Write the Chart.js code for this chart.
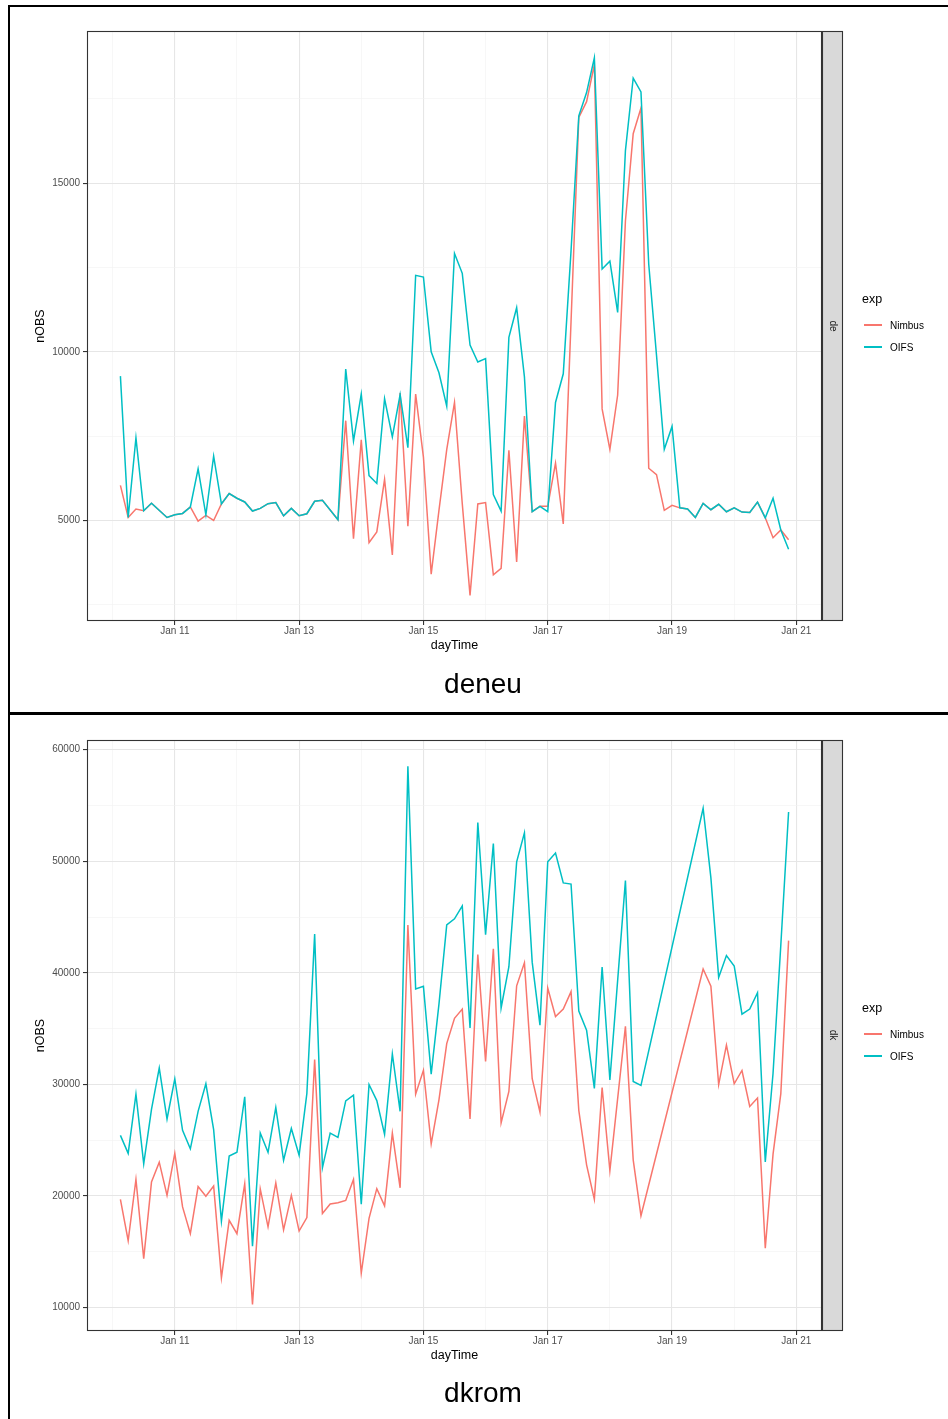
<!DOCTYPE html>
<html>
<head>
<meta charset="utf-8">
<title>nOBS per day</title>
<script src="https://cdn.jsdelivr.net/npm/chart.js@4.4.1/dist/chart.umd.min.js"></script>
<style>
    body { margin: 0; width: 948px; height: 1419px; background: #fff; position: relative; overflow: hidden;
           font-family: "Liberation Sans", Arial, Helvetica, sans-serif; }
    .rule { position: absolute; background: #000; }
    .panel { position: absolute; left: 0; width: 948px; height: 709px; }
    .panel canvas { position: absolute; left: 0; top: 0; }
    .txt { position: absolute; line-height: 1; white-space: nowrap; }
    .key { position: absolute; left: 864px; width: 18px; height: 2px; }
    .legend-title { left: 862px; top: 293px; font-size: 12.5px; color: #000; }
    .legend-item { left: 890px; font-size: 10px; color: #000; }
    .strip { left: 832.5px; top: 326px; font-size: 10px; color: #1a1a1a; transform: translate(-50%, -50%) rotate(90deg); }
    .caption { left: 483px; top: 670px; font-size: 28px; color: #000; transform: translateX(-50%); }
</style>
</head>
<body>

<div class="rule" style="left:8px; top:5px; width:940px; height:2px;"></div>
<div class="rule" style="left:8px; top:5px; width:2px; height:1414px;"></div>
<div class="rule" style="left:8px; top:712px; width:940px; height:3px;"></div>

<div class="panel" style="top:0px;">
    <canvas id="chartDeneu" width="948" height="700"></canvas>
    <div class="txt strip">de</div>
    <div class="txt legend-title">exp</div>
    <div class="key" style="top:324px; background:#F8766D;"></div>
    <div class="txt legend-item" style="top:320.5px;">Nimbus</div>
    <div class="key" style="top:346px; background:#00BFC4;"></div>
    <div class="txt legend-item" style="top:342.5px;">OIFS</div>
    <div class="txt caption">deneu</div>
</div>

<div class="panel" style="top:709px;">
    <canvas id="chartDkrom" width="948" height="700"></canvas>
    <div class="txt strip">dk</div>
    <div class="txt legend-title">exp</div>
    <div class="key" style="top:324px; background:#F8766D;"></div>
    <div class="txt legend-item" style="top:320.5px;">Nimbus</div>
    <div class="key" style="top:346px; background:#00BFC4;"></div>
    <div class="txt legend-item" style="top:342.5px;">OIFS</div>
    <div class="txt caption">dkrom</div>
</div>

<script>
// Sample times are day-of-January (3-hourly runs, 10.125 = Jan 10 03:00)

// --- deneu (strip "de") ---
const deneuTime = [
    10.125, 10.25, 10.375, 10.5, 10.625, 10.875, 11.0, 11.125, 11.25, 11.375, 11.5, 11.625, 11.75, 11.875,
    12.0, 12.125, 12.25, 12.375, 12.5, 12.625, 12.75, 12.875, 13.0, 13.125, 13.25, 13.375, 13.625, 13.75, 13.875,
    14.0, 14.125, 14.25, 14.375, 14.5, 14.625, 14.75, 14.875, 15.0, 15.125, 15.25, 15.375, 15.5, 15.625, 15.75, 15.875,
    16.0, 16.125, 16.25, 16.375, 16.5, 16.625, 16.75, 16.875, 17.0, 17.125, 17.25, 17.375, 17.5, 17.625, 17.75, 17.875,
    18.0, 18.125, 18.25, 18.375, 18.5, 18.625, 18.75, 18.875, 19.0, 19.125, 19.25, 19.375, 19.5, 19.625, 19.75, 19.875,
    20.0, 20.125, 20.25, 20.375, 20.5, 20.625, 20.75, 20.875
];
const deneuOIFS = [
    9280, 5090, 7450, 5290, 5510, 5090, 5170, 5210, 5400, 6530, 5170, 6910, 5490, 5800,
    5660, 5550, 5280, 5360, 5500, 5530, 5140, 5360, 5140, 5200, 5570, 5600, 5020, 9490, 7360,
    8750, 6330, 6100, 8610, 7480, 8730, 7160, 12270, 12220, 10000, 9380, 8390, 12920, 12330, 10200, 9700,
    9800, 5770, 5280, 10430, 11310, 9260, 5260, 5420, 5260, 8500, 9350, 13000, 17000, 17690, 18720, 12460,
    12690, 11170, 15970, 18120, 17710, 12600, 9900, 7110, 7790, 5375, 5340, 5090, 5510, 5320, 5480, 5260,
    5375, 5250, 5240, 5545, 5080, 5660, 4720, 4150
];
const deneuNimbus = [
    6040, 5090, 5340, 5290, 5510, 5090, 5170, 5210, 5400, 4980, 5150, 5000, 5490, 5800,
    5660, 5550, 5280, 5360, 5500, 5530, 5140, 5360, 5140, 5200, 5570, 5600, 5020, 7960, 4460,
    7390, 4340, 4660, 6220, 3980, 8780, 4830, 8750, 6880, 3410, 5300, 7100, 8500, 5500, 2780, 5490,
    5530, 3390, 3580, 7080, 3770, 8100, 5260, 5420, 5420, 6700, 4900, 10900, 16950, 17420, 18520, 8310,
    7110, 8720, 13880, 16470, 17230, 6550, 6360, 5300, 5450, 5375, 5340, 5090, 5510, 5320, 5480, 5260,
    5375, 5250, 5240, 5545, 5080, 4490, 4720, 4430
];

// --- dkrom (strip "dk") ---
const dkromTime = [
    10.125, 10.25, 10.375, 10.5, 10.625, 10.75, 10.875, 11.0, 11.125, 11.25, 11.375, 11.5, 11.625, 11.75, 11.875,
    12.0, 12.125, 12.25, 12.375, 12.5, 12.625, 12.75, 12.875, 13.0, 13.125, 13.25, 13.375, 13.5, 13.625, 13.75, 13.875,
    14.0, 14.125, 14.25, 14.375, 14.5, 14.625, 14.75, 14.875, 15.0, 15.125, 15.25, 15.375, 15.5, 15.625, 15.75, 15.875,
    16.0, 16.125, 16.25, 16.375, 16.5, 16.625, 16.75, 16.875, 17.0, 17.125, 17.25, 17.375, 17.5, 17.625, 17.75, 17.875,
    18.0, 18.25, 18.375, 18.5, 19.5, 19.625, 19.75, 19.875, 20.0, 20.125, 20.25, 20.375, 20.5, 20.625, 20.75, 20.875
];
const dkromOIFS = [
    25430, 23820, 29130, 22890, 27760, 31470, 26900, 30500, 25880, 24230, 27590, 30060, 25950, 17750, 23580,
    23920, 28890, 15490, 25640, 23920, 27930, 23200, 26050, 23650, 29200, 43470, 22520, 25640, 25260, 28520, 29030,
    19260, 29990, 28550, 25530, 32730, 27590, 58520, 38560, 38800, 30920, 37190, 44290, 44840, 46000, 35070, 53480,
    43430, 51590, 36850, 40550, 49950, 52550, 40960, 35310, 49950, 50740, 48060, 47960, 36570, 34860, 29650, 40520,
    30400, 48270, 30270, 29920, 54750, 48510, 39590, 41550, 40620, 36300, 36760, 38220, 23050, 31000, 42500, 54420
];
const dkromNimbus = [
    19700, 16000, 21490, 14390, 21250, 23030, 20050, 23820, 19020, 16620, 20840, 19980, 20900, 12670, 17820,
    16620, 21080, 10270, 20630, 17240, 21180, 16960, 20050, 16860, 18060, 32220, 18440, 19290, 19400, 19600, 21490,
    13090, 17990, 20660, 19120, 25640, 20730, 44290, 29130, 31260, 24680, 28620, 33660, 35920, 36750, 26900, 41650,
    32050, 42160, 26560, 29370, 38840, 40900, 30510, 27520, 38630, 36090, 36750, 38320, 27660, 22790, 19700, 29720,
    22280, 35200, 23240, 18230, 40350, 38800, 29990, 33520, 30060, 31250, 28020, 28780, 15320, 23750, 29180, 42890
];

// axis breaks (labelled: odd days on x, every 5000 / 10000 on y; the others are minor grid only)
const xTickDays = [10, 11, 12, 13, 14, 15, 16, 17, 18, 19, 20, 21];
const deneuYTicks = [2500, 5000, 7500, 10000, 12500, 15000, 17500];
const dkromYTicks = [10000, 15000, 20000, 25000, 30000, 35000, 40000, 45000, 50000, 55000, 60000];

const COLOR_NIMBUS = "#F8766D";
const COLOR_OIFS = "#00BFC4";

Chart.defaults.font.family = "'Liberation Sans', Arial, Helvetica, sans-serif";

// ggplot-like panel border and the grey facet strip on the right
const panelFrame = {
    id: "panelFrame",
    afterDatasetsDraw(chart) {
        const { ctx, chartArea: a } = chart;
        const h = a.bottom - a.top;
        ctx.save();
        ctx.strokeStyle = "#333333";
        ctx.lineWidth = 1.1;
        ctx.strokeRect(a.left + 0.5, a.top + 0.5, a.right - a.left - 1, h - 1);
        ctx.fillStyle = "#d9d9d9";
        ctx.fillRect(a.right, a.top, 21, h);
        ctx.strokeRect(a.right + 0.5, a.top + 0.5, 20, h - 1);
        ctx.restore();
    }
};

function gridStyle(isMajor) {
    return {
        color: c => (c.tick && isMajor(c.tick.value)) ? "#e6e6e6" : "#f2f2f2",
        lineWidth: c => (c.tick && isMajor(c.tick.value)) ? 1.1 : 0.6,
        tickColor: c => (c.tick && isMajor(c.tick.value)) ? "#333333" : "rgba(0,0,0,0)",
        tickLength: 4,
        tickWidth: 1.1
    };
}

function buildPanel(canvasId, times, nimbus, oifs, yTicks, yMajor, yMin, yMax, padBottom) {
    const toPoints = vals => times.map((t, i) => ({ x: t, y: vals[i] }));
    const isMajorX = v => v % 2 === 1;
    const isMajorY = v => v % yMajor === 0;

    new Chart(document.getElementById(canvasId), {
        type: "line",
        data: {
            datasets: [
                { label: "Nimbus", data: toPoints(nimbus), borderColor: COLOR_NIMBUS, order: 2 },
                { label: "OIFS", data: toPoints(oifs), borderColor: COLOR_OIFS, order: 1 }
            ]
        },
        options: {
            responsive: false,
            animation: false,
            elements: {
                line: { borderWidth: 1.5, tension: 0, fill: false },
                point: { radius: 0, hoverRadius: 0 }
            },
            layout: { padding: { left: 0, right: 126, top: 31, bottom: padBottom } },
            plugins: { legend: { display: false }, tooltip: { enabled: false } },
            scales: {
                x: {
                    type: "linear",
                    min: 9.5875,
                    max: 21.4125,
                    afterBuildTicks: axis => { axis.ticks = xTickDays.map(v => ({ value: v })); },
                    afterFit: axis => { axis.height = 40; },
                    border: { display: false },
                    grid: gridStyle(isMajorX),
                    ticks: {
                        autoSkip: false,
                        maxRotation: 0,
                        padding: 0,
                        color: "#4d4d4d",
                        font: { size: 10 },
                        callback: v => isMajorX(v) ? "Jan " + v : ""
                    },
                    title: {
                        display: true,
                        text: "dayTime",
                        color: "#000",
                        font: { size: 12.5 },
                        padding: { top: 0, bottom: 7.5 }
                    }
                },
                y: {
                    min: yMin,
                    max: yMax,
                    afterBuildTicks: axis => { axis.ticks = yTicks.map(v => ({ value: v })); },
                    afterFit: axis => { axis.width = 87; },
                    border: { display: false },
                    grid: gridStyle(isMajorY),
                    ticks: {
                        padding: 3,
                        color: "#4d4d4d",
                        font: { size: 10 },
                        callback: v => isMajorY(v) ? String(v) : ""
                    },
                    title: {
                        display: true,
                        text: "nOBS",
                        color: "#000",
                        font: { size: 12.5 },
                        padding: { top: 33.5, bottom: 0 }
                    }
                }
            }
        },
        plugins: [panelFrame]
    });
}

buildPanel("chartDeneu", deneuTime, deneuNimbus, deneuOIFS, deneuYTicks, 5000, 2020, 19515, 39);
buildPanel("chartDkrom", dkromTime, dkromNimbus, dkromOIFS, dkromYTicks, 10000, 7900, 60870, 38);
</script>
</body>
</html>
